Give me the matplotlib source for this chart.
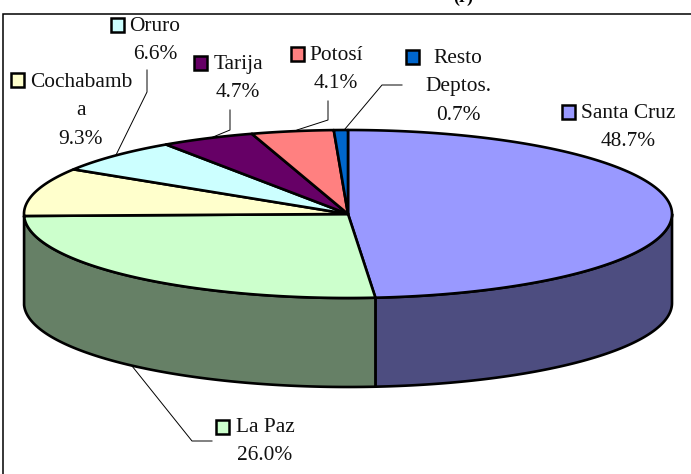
import numpy as np
import matplotlib
matplotlib.use('Agg')
import matplotlib.pyplot as plt
from matplotlib.patches import Polygon, Rectangle

plt.rcParams['font.family'] = ['Liberation Serif', 'DejaVu Serif']

departments = ['Santa Cruz', 'La Paz', 'Cochabamba', 'Oruro', 'Tarija', 'Potosí', 'Resto Deptos.']
shares = [48.7, 26.0, 9.3, 6.6, 4.7, 4.1, 0.7]
share_labels = ['48.7%', '26.0%', '9.3%', '6.6%', '4.7%', '4.1%', '0.7%']
top_colors = ['#9999ff', '#ccffcc', '#ffffcc', '#ccffff', '#660066', '#ff8080', '#0066cc']
side_colors = ['#4d4d80', '#668066']

# geometry of the 3d pie, in image pixels
cx, cy, rx, ry, depth = 348, 214, 324, 84, 89


def rim(a0, a1, n=200):
    t = np.radians(np.linspace(a0, a1, n))
    return cx + rx * np.sin(t), cy - ry * np.cos(t)


def legend_text(x, y, name, value, key_x, key_y, color):
    for i, line in enumerate(name + [value]):
        ax.text(x, y + 1.5 + i * 28.3, line, ha='center', va='center', fontsize=FS, color='#111111', zorder=6)
    ax.add_patch(Rectangle((key_x, key_y), 13.5, 13.5, fc=color, ec='black', lw=1.8, zorder=6))


def leader(xs, ys):
    ax.plot(xs, ys, color='black', lw=0.7, zorder=1)


FS = 15.4
fig = plt.figure(figsize=(6.91, 4.74), dpi=100)
ax = fig.add_axes([0, 0, 1, 1])
ax.set_xlim(0, 691)
ax.set_ylim(474, 0)
ax.axis('off')

ax.add_patch(Rectangle((3.5, 14), 690, 470, fc='white', ec='black', lw=1.1, zorder=0))
ax.text(463, -3, '(r)', ha='center', va='center', fontsize=13, fontweight='bold', color='black')

# slice angles, clockwise from 12 o'clock
total = sum(shares)
edges = np.concatenate([[0], np.cumsum(shares)]) / total * 360

# side walls: only the two front slices show
for i in range(2):
    a0 = max(edges[i], 90)
    a1 = min(edges[i + 1], 270)
    x, y = rim(a0, a1)
    pts = np.column_stack([np.r_[x, x[::-1]], np.r_[y, y[::-1] + depth]])
    ax.add_patch(Polygon(pts, closed=True, fc=side_colors[i], ec='black', lw=1.9, zorder=2, joinstyle='round'))

# top face
for i in range(len(shares)):
    x, y = rim(edges[i], edges[i + 1])
    pts = np.column_stack([np.r_[cx, x], np.r_[cy, y]])
    ax.add_patch(Polygon(pts, closed=True, fc=top_colors[i], ec='black', lw=1.9, zorder=3, joinstyle='round'))

# leader lines
leader([147, 147, 116], [70, 92, 155])
leader([230, 230, 213], [110, 130, 137])
leader([328, 328, 297], [101, 120, 130])
leader([402, 382, 345], [85, 85, 129])
leader([212, 192, 132], [441, 441, 366])

legend_text(81, 81, ['Cochabamb', 'a'], share_labels[2], 11, 73, top_colors[2])
legend_text(155, 25, ['Oruro'], share_labels[3], 111, 18, top_colors[3])
legend_text(238, 63, ['Tarija'], share_labels[4], 194, 56, top_colors[4])
legend_text(336, 54, ['Potosí'], share_labels[5], 291, 47, top_colors[5])
legend_text(458, 57, ['Resto', 'Deptos.'], share_labels[6], 406, 50, top_colors[6])
legend_text(628, 112, ['Santa Cruz'], share_labels[0], 562, 105, top_colors[0])
legend_text(265, 426, ['La Paz'], share_labels[1], 216, 420, top_colors[1])

fig.savefig('out.png', dpi=100)
